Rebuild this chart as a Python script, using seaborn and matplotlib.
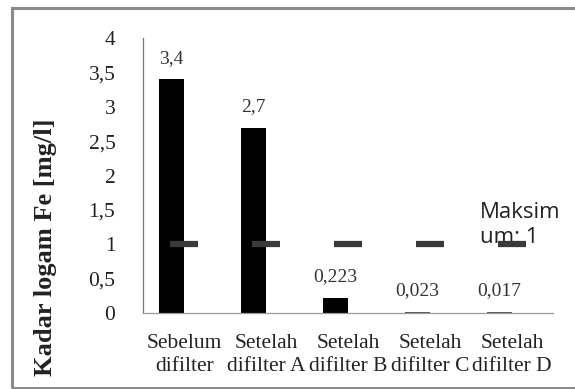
import matplotlib
matplotlib.use("Agg")
import matplotlib.pyplot as plt
import seaborn as sns
import pandas as pd
import numpy as np
from matplotlib.patches import Rectangle

categories = ["Sebelum\ndifilter", "Setelah\ndifilter A", "Setelah\ndifilter B",
              "Setelah\ndifilter C", "Setelah\ndifilter D"]
kadar = [3.4, 2.7, 0.223, 0.023, 0.017]
kadar_labels = ["3,4", "2,7", "0,223", "0,023", "0,017"]
maksimum = [1, 1, 1, 1, 1]
y_ticks = [0, 0.5, 1, 1.5, 2, 2.5, 3, 3.5, 4]
y_ticklabels = ["0", "0,5", "1", "1,5", "2", "2,5", "3", "3,5", "4"]

sns.set_theme(style="white")
plt.rcParams["font.family"] = ["Liberation Serif", "DejaVu Serif"]

fig = plt.figure(figsize=(5.75, 3.89), dpi=100)
ax = fig.add_axes([0.249, 0.195, 0.713, 0.707])

df = pd.DataFrame({
    "cat": categories * 2,
    "val": kadar + [np.nan] * 5,
    "series": ["Kadar"] * 5 + ["pad"] * 5,
})
sns.barplot(data=df, x="cat", y="val", hue="series", order=categories,
            palette={"Kadar": "black", "pad": "white"}, width=0.62,
            dodge=True, legend=False, ax=ax, errorbar=None, linewidth=0)

for p in ax.patches:
    h = p.get_height()
    if h == h and h < 0.05:
        p.set_facecolor("#555555")

# maximum markers
sns.scatterplot(x=categories, y=maksimum, marker="_", s=420, linewidths=4.5,
                color="#3a3a3a", ax=ax, zorder=5, legend=False)

# data labels
for i, (v, lab) in enumerate(zip(kadar, kadar_labels)):
    ax.annotate(lab, xy=(i - 0.155, v), xytext=(0, 9), textcoords="offset points",
                ha="center", va="bottom", fontsize=14, color="#333333")

ax.annotate("Maksim\num; 1", xy=(4, 1), xytext=(-23, 14), textcoords="offset points",
            ha="left", va="center", multialignment="left", fontsize=16,
            color="#222222", family=["Open Sans", "DejaVu Sans"], linespacing=1.25)

ax.set_xlim(-0.5, 4.5)
ax.set_ylim(0, 4)
ax.set_yticks(y_ticks)
ax.set_yticklabels(y_ticklabels)
ax.tick_params(axis="y", length=0, pad=20, labelsize=15.5, labelcolor="#222222")
ax.tick_params(axis="x", length=0, pad=15, labelsize=15.5, labelcolor="#222222")
for lab in ax.get_xticklabels():
    lab.set_linespacing(1.3)
ax.set_xlabel("")
ax.set_ylabel("Kadar logam Fe [mg/l]", fontsize=19, fontweight="bold",
              color="#222222")
ax.yaxis.set_label_coords(-0.21, 0.24)

for s in ["top", "right"]:
    ax.spines[s].set_visible(False)
ax.spines["left"].set_color("#777777")
ax.spines["bottom"].set_color("#999999")
ax.spines["left"].set_linewidth(0.9)
ax.spines["bottom"].set_linewidth(0.9)
ax.grid(False)

fig.patches.append(Rectangle((12 / 575, 0.003), 1.2, 1 - 8 / 389 - 0.003,
                             transform=fig.transFigure, fill=False,
                             edgecolor="#8a8a8a", linewidth=2.2, zorder=0))

fig.savefig("out.png", dpi=100)
